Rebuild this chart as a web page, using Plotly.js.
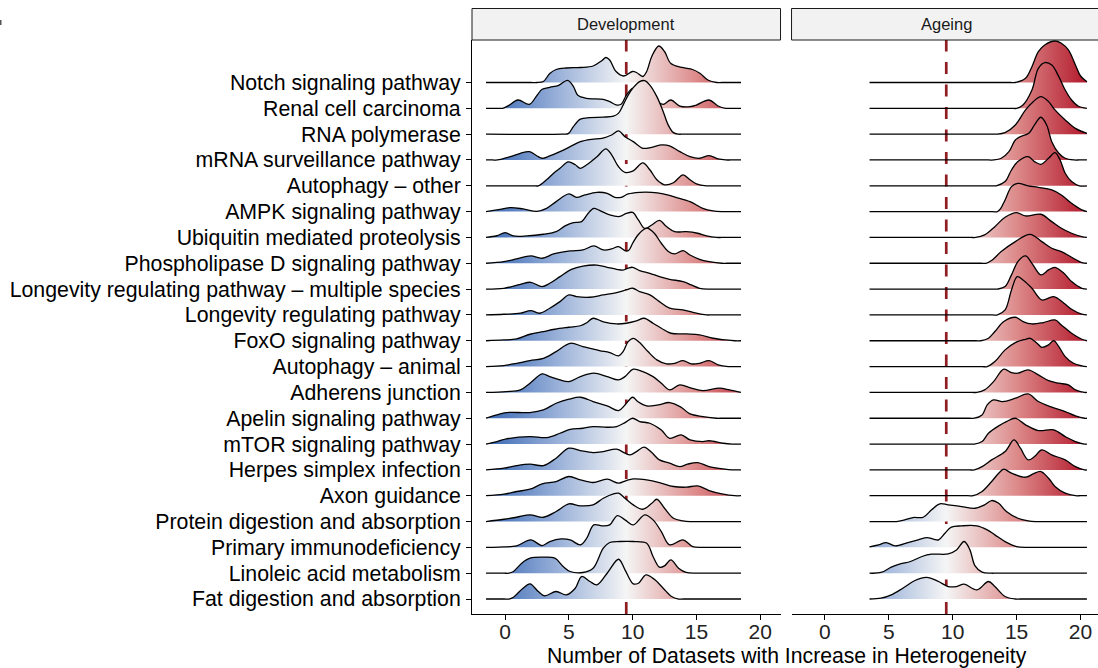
<!DOCTYPE html>
<html><head><meta charset="utf-8">
<script src="https://cdn.plot.ly/plotly-3.0.1.min.js"></script>
<style>html,body{margin:0;padding:0;overflow:hidden;background:#fff}#chart{width:1101px;height:668px}</style>
</head><body><div id="chart"></div><script>
// Pathways, top to bottom
const pathways = ["Notch signaling pathway","Renal cell carcinoma","RNA polymerase","mRNA surveillance pathway","Autophagy \u2013 other","AMPK signaling pathway","Ubiquitin mediated proteolysis","Phospholipase D signaling pathway","Longevity regulating pathway \u2013 multiple species","Longevity regulating pathway","FoxO signaling pathway","Autophagy \u2013 animal","Adherens junction","Apelin signaling pathway","mTOR signaling pathway","Herpes simplex infection","Axon guidance","Protein digestion and absorption","Primary immunodeficiency","Linoleic acid metabolism","Fat digestion and absorption"];
const panels = ["Development","Ageing"];
const xTicks = [0,5,10,15,20];
const threshold = 9.5;
const devSpan = [-1.5, 18.5];
const ageSpan = [3.5, 20.5];
const densityPerRow = 25.83; // density units equal to one row spacing

// Development densities: pairs of (datasets, density)
const devNotch = [-1.5,0, 2.0,0, 2.5,0, 3.0,1, 3.5,9, 4.0,13, 4.8,14.5, 5.9,15, 6.9,16.5, 7.6,22, 7.9,25, 8.2,22.5, 8.7,11, 9.3,6.5, 10.0,11, 10.3,10, 10.8,6, 11.1,11, 11.5,26, 12.05,36.5, 12.5,31, 13.0,19, 13.9,15, 14.7,13, 15.3,9, 15.9,2.5, 16.6,0, 17.0,0, 18.5,0];
const devRenal = [-1.5,0, -0.6,0, -0.2,0, 0.3,3, 1.0,8.3, 1.9,4, 2.5,13, 2.9,19, 3.5,21, 4.2,23, 4.9,28, 5.35,22, 5.7,13, 6.4,10, 7.7,9, 8.2,6.7, 8.7,3.5, 9.1,4, 9.5,13, 10.0,20, 10.4,18, 11.1,12, 11.9,6.7, 12.4,4, 13.0,8.3, 13.7,2.3, 14.5,1.7, 15.0,3.3, 16.0,8.3, 16.7,2.3, 17.3,0, 17.7,0, 18.5,0];
const devRNA = [-1.5,0, 4.5,0, 4.95,0.5, 5.35,7.5, 5.9,15, 6.65,16.5, 7.7,17, 8.5,18, 8.9,21, 9.25,29, 9.65,39, 10.05,46.5, 10.55,52.5, 10.95,53.5, 11.35,49, 11.9,37.5, 12.4,22.5, 12.8,9, 13.2,1.5, 13.6,0, 14.0,0, 18.5,0];
const devMRNA = [-1.5,0, -1.0,0, -0.6,0, 0.4,3.3, 1.2,6.7, 1.9,8.3, 2.5,4, 2.9,1.7, 3.5,4, 4.3,8.3, 5.1,13.3, 5.9,18.3, 6.8,20.7, 7.6,21.7, 8.35,25, 8.9,29, 9.4,23.3, 10.05,18.3, 10.8,11.7, 11.5,12.7, 12.3,15, 12.9,14, 13.7,8.3, 14.5,3.3, 15.25,1.7, 16.0,4.3, 16.7,1, 17.3,0, 17.7,0, 18.5,0];
const devAutoOther = [-1.5,0, 2.2,0, 2.6,0, 3.25,6, 3.8,12.5, 4.3,17.5, 4.95,24, 5.5,21, 5.9,17.5, 6.4,21, 7.2,29, 7.9,37, 8.35,31, 8.9,19, 9.4,13.5, 10.05,15, 10.8,23, 11.35,16, 11.9,6, 12.5,1, 13.2,3, 13.95,11, 14.5,6, 15.0,2, 15.8,0, 16.2,0, 18.5,0];
const devAMPK = [-1.5,0, -0.65,1.7, 0.4,4, 1.4,2.7, 2.5,0.3, 3.25,3.3, 4.0,10, 5.0,17.7, 5.6,14.3, 6.25,16.7, 7.2,19.3, 8.0,18.3, 8.6,14.3, 9.1,14.3, 9.65,17.7, 10.55,19.3, 11.5,19.3, 12.4,17.7, 13.4,14.3, 14.5,10, 15.5,3.3, 16.3,0.7, 17.0,0, 17.4,0, 18.5,0];
const devUbiq = [-1.5,0, -0.65,1.7, 0.0,4.8, 0.65,1.5, 1.7,1.5, 3.0,3.2, 4.0,5.8, 4.7,11.5, 5.35,14.8, 6.0,15.8, 6.5,24, 6.95,29, 7.4,27, 8.2,22.5, 9.0,21, 9.5,24, 10.0,25, 10.45,17.5, 10.95,9, 11.5,12.5, 12.1,17, 12.65,11, 13.3,5.8, 14.2,5.8, 15.1,4.2, 15.8,1.5, 16.6,0, 17.0,0, 18.5,0];
const devPLD = [-1.5,0, -0.1,1.7, 0.9,4.3, 2.0,7.3, 2.9,5, 3.8,9.3, 5.1,12.3, 6.1,13.3, 6.95,17.3, 7.7,13.3, 8.35,14.3, 8.9,16.7, 9.45,12.3, 9.7,13, 10.0,20, 10.4,28, 10.9,34, 11.2,35, 11.7,30, 12.25,20, 12.8,11.7, 13.3,9.3, 13.95,12.7, 14.5,8.3, 15.25,4, 16.0,1.7, 17.0,0, 17.4,0, 18.5,0];
const devLongMulti = [-1.5,0, -0.1,0.8, 1.2,4.8, 2.0,6.8, 2.9,2.5, 3.5,5.8, 4.3,12.5, 5.2,19.8, 6.1,23, 7.2,24, 8.0,21.8, 8.75,19.8, 9.25,19, 9.65,21, 10.0,21.8, 10.55,18.5, 11.35,15.8, 12.1,12.5, 12.9,9.8, 13.95,7.5, 14.6,4.2, 15.25,0.8, 16.0,0, 16.4,0, 18.5,0];
const devLongevity = [-1.5,0, -0.1,0.7, 1.2,1.7, 2.0,4.3, 2.7,1.7, 3.5,6.7, 4.3,13.3, 5.0,20, 5.6,18.3, 6.65,17.7, 7.7,20, 8.75,22.3, 9.5,25, 10.0,26.7, 10.55,23.3, 11.35,20, 12.1,13.3, 12.9,6.7, 13.95,5, 15.0,1.7, 15.8,0, 16.2,0, 18.5,0];
const devFoxO = [-1.5,0, -0.1,0.8, 0.9,1.8, 1.95,6.5, 3.0,9.2, 3.9,11.5, 5.0,13.5, 5.9,15, 6.4,18, 6.9,22.5, 7.7,19, 8.75,16.8, 9.5,17.5, 10.3,19.8, 10.9,22.5, 11.6,17.5, 12.25,12.5, 13.0,7.5, 14.2,6.8, 15.25,5.8, 16.3,2.5, 17.3,0.8, 18.0,0, 18.5,0];
const devAutoAnimal = [-1.5,0, -0.1,1, 0.9,3.3, 1.95,6, 3.0,8.3, 4.0,15, 5.1,23.3, 6.1,20, 7.4,16, 8.2,14, 8.9,10.7, 9.25,15, 9.65,25, 10.05,28.3, 10.55,24, 11.2,15, 11.9,6.7, 12.65,2.7, 13.3,3.3, 13.95,6, 14.6,2.7, 15.25,3.3, 16.0,6, 16.7,1.7, 17.5,0, 17.9,0, 18.5,0];
const devAdherens = [-1.5,0, 0.1,0.8, 1.2,2.5, 1.95,9.2, 2.9,18.5, 3.5,15.8, 4.3,12.5, 5.0,10.8, 5.9,15.8, 6.95,19.2, 8.0,15.8, 8.9,12.5, 9.4,15.8, 10.05,23.2, 10.8,20.8, 11.6,15.8, 12.25,9.2, 12.9,2.5, 13.7,7.5, 14.6,4.2, 15.5,1.8, 16.8,4.2, 17.6,2.5, 18.5,0];
const devApelin = [-1.5,0, -0.65,3.3, 0.1,5.7, 1.95,5.7, 3.0,8.3, 4.0,15, 5.0,19, 5.9,21, 6.9,16.7, 8.0,12.3, 8.9,7.7, 9.4,13.3, 10.0,21, 10.4,16.7, 11.1,12.3, 12.0,13.3, 12.9,15.7, 13.8,11, 14.5,4.3, 15.5,1.7, 16.6,0, 17.0,0, 18.5,0];
const devMTOR = [-1.5,0, -0.65,2.5, 0.1,5.2, 1.95,7.5, 3.25,6.5, 4.3,10.8, 5.1,14.8, 6.1,15.8, 6.9,17.5, 8.0,16.8, 8.75,17.5, 9.4,21.5, 10.0,25.8, 10.55,22.5, 11.35,20.8, 12.25,14, 12.9,5.8, 13.8,9.2, 14.5,4.2, 15.5,2.5, 16.0,3.3, 17.1,0.8, 17.8,0, 18.5,0];
const devHerpes = [-1.5,0, -0.1,1.7, 0.9,4.3, 1.95,5.7, 3.0,4.3, 4.0,11.7, 5.0,21.7, 5.9,19.3, 6.9,17.3, 7.7,18.3, 8.75,20.7, 9.4,16.7, 9.8,15, 10.3,18.3, 10.9,22.7, 11.5,17.3, 12.1,10, 12.9,6.7, 13.7,3.3, 14.3,5.7, 15.1,7.3, 16.0,3.3, 17.1,1, 17.8,0, 18.5,0];
const devAxon = [-1.5,0, -0.1,1.5, 0.9,4.2, 1.95,6.5, 2.9,11.8, 4.0,14.2, 5.0,19.2, 5.9,15.8, 6.9,13.2, 8.0,16.5, 8.9,12.5, 9.5,15.2, 10.05,16.8, 11.1,15.8, 12.1,13.2, 13.2,9.2, 14.2,8.5, 15.1,9.8, 16.0,5.2, 17.1,1.5, 18.0,0, 18.5,0];
const devProtein = [-1.5,0, -0.1,2.3, 0.9,4.3, 1.95,6.7, 3.0,4.3, 4.0,10, 5.0,17.7, 5.9,15.7, 6.9,16.7, 7.7,23.3, 8.5,27.7, 8.9,28.3, 9.4,23.3, 10.05,16.7, 10.8,12.3, 11.5,18.3, 11.9,22.3, 12.5,13.3, 13.2,3.3, 13.95,0.7, 14.5,0, 14.9,0, 18.5,0];
const devPrimImm = [-1.5,0, -0.5,0.3, 0.9,1.5, 2.0,7.5, 2.9,1.8, 3.5,5.8, 4.4,8.5, 5.1,7.5, 5.9,2.5, 6.4,9.2, 6.95,22.5, 7.6,21.5, 8.2,22.5, 8.8,31.8, 9.4,27.5, 10.05,22.5, 10.95,32.5, 11.6,27.5, 12.25,15.8, 12.9,2.5, 13.95,7.5, 14.7,0.8, 15.5,0, 15.9,0, 18.5,0];
const devLinoleic = [-1.5,0, -0.1,0, 0.3,0, 0.65,1.7, 1.3,10, 1.95,15, 3.0,16, 3.9,15, 4.55,6.7, 5.1,1.7, 6.1,0.7, 6.9,5, 7.7,25, 8.2,30.7, 9.0,31.7, 10.05,31.7, 11.1,30, 11.6,16.7, 12.1,6, 12.5,7.3, 13.0,13.3, 13.6,5, 14.2,0.7, 15.0,0, 15.4,0, 18.5,0];
const devFat = [-1.5,0, -0.1,0, 0.3,0, 0.65,1.8, 1.4,10.8, 1.95,15.2, 2.6,7.5, 3.1,3.2, 4.0,7.5, 4.8,4.2, 5.5,10.8, 6.0,22.5, 6.65,17.5, 7.2,14.2, 8.0,25.8, 8.9,39.8, 9.4,29.2, 10.05,15.2, 10.45,15.8, 11.05,24.2, 11.75,19.2, 12.4,10.8, 13.05,2.5, 13.6,0, 14.0,0, 18.5,0];

// Ageing densities
const ageNotch = [3.5,0, 14.5,0, 14.9,0, 15.7,4.2, 16.2,15.8, 16.7,30.8, 17.2,37.5, 18.0,41.5, 18.5,39.2, 19.05,32.5, 19.6,17.5, 20.0,6.5, 20.5,0.8];
const ageRenal = [3.5,0, 14.6,0, 15.0,0, 15.5,3.3, 16.2,18.3, 16.7,40, 17.2,45.7, 17.75,43.3, 18.3,31.7, 18.8,18.3, 19.3,8.3, 19.8,2.3, 20.5,0];
const ageRNA = [3.5,0, 13.0,0, 13.4,0, 14.1,1.5, 14.9,9.2, 15.7,24.2, 16.3,32.5, 16.9,37.5, 17.5,32.5, 18.0,24.2, 18.8,14.2, 19.6,5.8, 20.5,0.8];
const ageMRNA = [3.5,0, 12.8,0, 13.2,0, 13.8,1.7, 14.4,8.3, 14.9,20, 15.3,23.3, 15.95,26.7, 16.4,35, 16.9,42.7, 17.35,35, 17.75,18.3, 18.3,6.7, 18.8,1.7, 19.5,0, 19.9,0, 20.5,0];
const ageAutoOther = [3.5,0, 13.0,0, 13.4,0, 14.1,4.2, 14.6,15.8, 15.1,24.2, 15.9,29.2, 16.4,24.2, 16.9,21.5, 17.5,27.5, 18.0,33.2, 18.4,25.8, 18.8,12.5, 19.3,4.2, 19.9,0, 20.5,0];
const ageAMPK = [3.5,0, 13.1,0, 13.5,0, 13.75,3, 14.1,11.7, 14.6,25, 15.1,28.3, 15.9,25.7, 16.7,24.3, 17.75,21.7, 18.5,16.7, 19.3,8.3, 20.1,1.7, 20.5,0];
const ageUbiq = [3.5,0, 11.4,0, 11.8,0, 12.5,2.5, 13.3,10.8, 14.1,20.2, 15.0,24.8, 15.7,21.5, 16.9,23.2, 17.75,15.8, 18.5,9.2, 19.3,4.2, 20.1,0.8, 20.5,0];
const agePLD = [3.5,0, 12.2,0, 12.6,0, 13.1,3.3, 13.8,11.7, 14.9,21.7, 16.05,29, 16.97,21.7, 17.75,15, 18.5,11.7, 19.3,6, 20.1,0.7, 20.5,0];
const ageLongMulti = [3.5,0, 13.1,0, 13.5,0, 14.1,2.5, 14.6,14.2, 15.1,27.5, 15.7,33.2, 16.2,25.8, 16.9,14.2, 17.5,19.2, 18.0,21.8, 18.7,15.8, 19.3,7.5, 20.1,0.8, 20.5,0];
const ageLongevity = [3.5,0, 13.1,0, 13.5,0, 14.1,5, 14.6,25, 15.05,38.3, 15.5,35, 16.2,26.7, 16.97,15, 17.9,18.3, 18.7,11.7, 19.3,5.7, 20.1,0.7, 20.5,0];
const ageFoxO = [3.5,0, 11.8,0, 12.2,0, 12.8,2.5, 13.3,9.2, 14.0,19.2, 14.9,23.5, 15.5,19.2, 16.2,16.8, 17.1,18.2, 18.0,20.8, 18.5,15.8, 19.3,7.5, 20.1,1.5, 20.5,0];
const ageAutoAnimal = [3.5,0, 12.3,0, 12.7,0, 13.3,5, 14.1,16.7, 14.9,24, 15.7,27.3, 16.05,28.3, 16.6,23.3, 16.97,19.3, 17.5,21.7, 17.9,26, 18.3,20, 18.8,10, 19.45,3.3, 20.1,0.7, 20.5,0];
const ageAdherens = [3.5,0, 11.5,0, 11.9,0, 12.5,2.5, 13.2,10.8, 14.0,23.2, 14.6,19.8, 15.1,19.2, 15.9,22.5, 16.7,17.5, 17.5,11.8, 18.3,9.2, 19.05,7.5, 19.6,2.5, 20.3,0, 20.5,0];
const ageApelin = [3.5,0, 11.3,0, 11.7,0, 12.3,3.3, 12.7,13.3, 13.2,18.3, 13.9,16.7, 14.9,20, 15.9,24.3, 16.7,16.7, 17.75,11, 18.8,6.7, 19.6,2.3, 20.3,0, 20.5,0];
const ageMTOR = [3.5,0, 11.3,0, 11.7,0, 12.3,2.5, 12.8,10.8, 13.6,18.2, 14.2,22.5, 14.9,25.8, 15.7,19.2, 16.7,13.5, 17.9,14.2, 18.8,7.5, 19.6,2.5, 20.3,0, 20.5,0];
const ageHerpes = [3.5,0, 11.3,0, 11.7,0, 12.3,3.3, 13.05,10, 14.1,18.3, 14.8,30, 15.3,21.7, 15.9,10, 16.4,13.3, 16.97,20, 17.75,15, 18.8,10, 19.6,3.3, 20.3,0, 20.5,0];
const ageAxon = [3.5,0, 11.2,0, 11.6,0, 12.3,4.2, 13.05,14.2, 13.6,22.5, 14.0,26.5, 14.6,22.5, 15.7,18.5, 16.3,21.8, 16.9,24.2, 17.5,17.5, 18.0,9.2, 18.8,2.5, 19.6,0, 20.0,0, 20.5,0];
const ageProtein = [3.5,0, 5.2,0, 5.6,0, 6.25,1.7, 6.9,4, 7.7,4.3, 8.35,11.7, 9.0,17.7, 9.65,16.7, 10.7,15, 11.75,13.3, 12.5,16.7, 13.05,21, 13.6,18.3, 14.2,10, 15.1,3.3, 15.9,0.7, 16.5,0, 16.9,0, 20.5,0];
const agePrimImm = [3.5,0.5, 4.2,2.5, 4.8,4.8, 5.5,1.5, 6.5,4.8, 7.3,7.5, 8.0,9.8, 8.5,8.2, 8.9,7.5, 9.4,14.2, 9.9,20.2, 10.7,21.5, 11.9,21.5, 12.7,17.5, 13.3,12.5, 14.1,5.8, 15.0,0.8, 15.8,0, 16.2,0, 20.5,0];
const ageLinoleic = [3.5,0, 4.4,0.7, 5.2,6, 5.9,9.3, 6.7,11.7, 7.6,16.7, 8.35,19, 9.65,19.3, 10.3,23.3, 10.9,31.7, 11.35,23.3, 11.75,7.3, 12.3,1, 13.0,0, 13.4,0, 20.5,0];
const ageFat = [3.5,0, 4.4,0.8, 5.2,4.2, 6.1,10.8, 7.05,18.5, 7.95,21.7, 8.9,17.5, 9.65,12.5, 10.3,12.5, 10.9,14.8, 11.9,9.2, 12.8,17.5, 13.3,12.5, 14.1,2.5, 14.9,0, 15.3,0, 20.5,0];

const devRows = [devNotch, devRenal, devRNA, devMRNA, devAutoOther, devAMPK, devUbiq, devPLD, devLongMulti, devLongevity, devFoxO, devAutoAnimal, devAdherens, devApelin, devMTOR, devHerpes, devAxon, devProtein, devPrimImm, devLinoleic, devFat];
const ageRows = [ageNotch, ageRenal, ageRNA, ageMRNA, ageAutoOther, ageAMPK, ageUbiq, agePLD, ageLongMulti, ageLongevity, ageFoxO, ageAutoAnimal, ageAdherens, ageApelin, ageMTOR, ageHerpes, ageAxon, ageProtein, agePrimImm, ageLinoleic, ageFat];

const FONT = '"Liberation Sans", Arial, Helvetica, sans-serif';
const gradient = {type:'horizontal', start:-1.5, stop:20.5,
  colorscale:[[0,'#3867b4'],[0.25,'#97afd8'],[0.5,'#f5f5f5'],[0.75,'#dd8a8a'],[1,'#b2182b']]};

const traces = [];
function addPanel(rows, span, xa) {
  const n = pathways.length;
  rows.forEach((pts, i) => {
    const base = n - 1 - i;
    const xs = [], ys = [];
    for (let k = 0; k < pts.length; k += 2) { xs.push(pts[k]); ys.push(base + pts[k+1] / densityPerRow); }
    traces.push({x:[span[0], span[1]], y:[base, base], xaxis:xa, yaxis:'y', mode:'lines',
      line:{color:'rgba(0,0,0,0)', width:1}, hoverinfo:'skip', showlegend:false});
    traces.push({x:xs, y:ys, xaxis:xa, yaxis:'y', mode:'lines', fill:'tonexty',
      fillgradient:gradient, fillcolor:'#f5f5f5',
      line:{color:'#000', width:1.3, shape:'spline', smoothing:1},
      hoverinfo:'skip', showlegend:false});
  });
}
addPanel(devRows, devSpan, 'x');
addPanel(ageRows, ageSpan, 'x2');

const plotH = 574;
const devDom = [0, 0.4905], ageDom = [0.508, 1];
const xaxisBase = {range:[-2.6, 21.6], tickvals:xTicks, ticks:'outside', ticklen:5, tickwidth:1, tickcolor:'#000',
  showline:true, linecolor:'#000', linewidth:1, showgrid:false, zeroline:false, anchor:'y', fixedrange:true,
  ticklabelstandoff:-6,
  tickfont:{family:FONT, size:21, color:'#222'}};
const stripH = 31.5/plotH;
const dash = {color:'#8f1d21', width:2.7, dash:'12px,10.5px'};

const layout = {
  width:1101, height:668, margin:{l:472, r:0, t:40, b:54}, paper_bgcolor:'#fff', plot_bgcolor:'#fff',
  showlegend:false, hovermode:false,
  xaxis:Object.assign({}, xaxisBase, {domain:devDom}),
  xaxis2:Object.assign({}, xaxisBase, {domain:ageDom}),
  yaxis:{domain:[0,1], range:[-0.58, 21.645], tickvals:pathways.map((p,i)=>pathways.length-1-i), ticktext:pathways,
    ticks:'outside', ticklen:5, tickwidth:1, tickcolor:'#000', showline:true, linecolor:'#000', linewidth:1,
    showgrid:false, zeroline:false, anchor:'x', fixedrange:true, ticklabelstandoff:1,
    tickfont:{family:FONT, size:21.3, color:'#000'}},
  shapes:[
    {type:'line', xref:'x', yref:'paper', x0:threshold, x1:threshold, y0:0, y1:1, layer:'below', line:dash},
    {type:'line', xref:'x2', yref:'paper', x0:threshold, x1:threshold, y0:0, y1:1, layer:'below', line:dash},
    {type:'rect', xref:'paper', yref:'paper', x0:devDom[0], x1:devDom[1], y0:1, y1:1+stripH, fillcolor:'#f2f2f2', line:{color:'#1a1a1a', width:1}},
    {type:'rect', xref:'paper', yref:'paper', x0:ageDom[0], x1:ageDom[1]+0.01, y0:1, y1:1+stripH, fillcolor:'#f2f2f2', line:{color:'#1a1a1a', width:1}},
    {type:'rect', xref:'paper', yref:'paper', x0:-472/629, x1:-470.5/629, y0:(614-25)/plotH, y1:(614-20)/plotH, fillcolor:'#555', line:{width:0}}
  ],
  annotations:[
    {text:panels[0], xref:'paper', yref:'paper', x:(devDom[0]+devDom[1])/2, y:1+stripH/2, showarrow:false, xanchor:'center', yanchor:'middle', font:{family:FONT, size:16.5, color:'#1a1a1a'}},
    {text:panels[1], xref:'paper', yref:'paper', x:(ageDom[0]+ageDom[1])/2, y:1+stripH/2, showarrow:false, xanchor:'center', yanchor:'middle', font:{family:FONT, size:16.5, color:'#1a1a1a'}},
    {text:'Number of Datasets with Increase in Heterogeneity', xref:'paper', yref:'paper', x:0.5, y:(614-656)/plotH, showarrow:false, xanchor:'center', yanchor:'middle', font:{family:FONT, size:21.2, color:'#000'}}
  ]
};
Plotly.newPlot('chart', traces, layout, {staticPlot:true, displayModeBar:false});
</script></body></html>
